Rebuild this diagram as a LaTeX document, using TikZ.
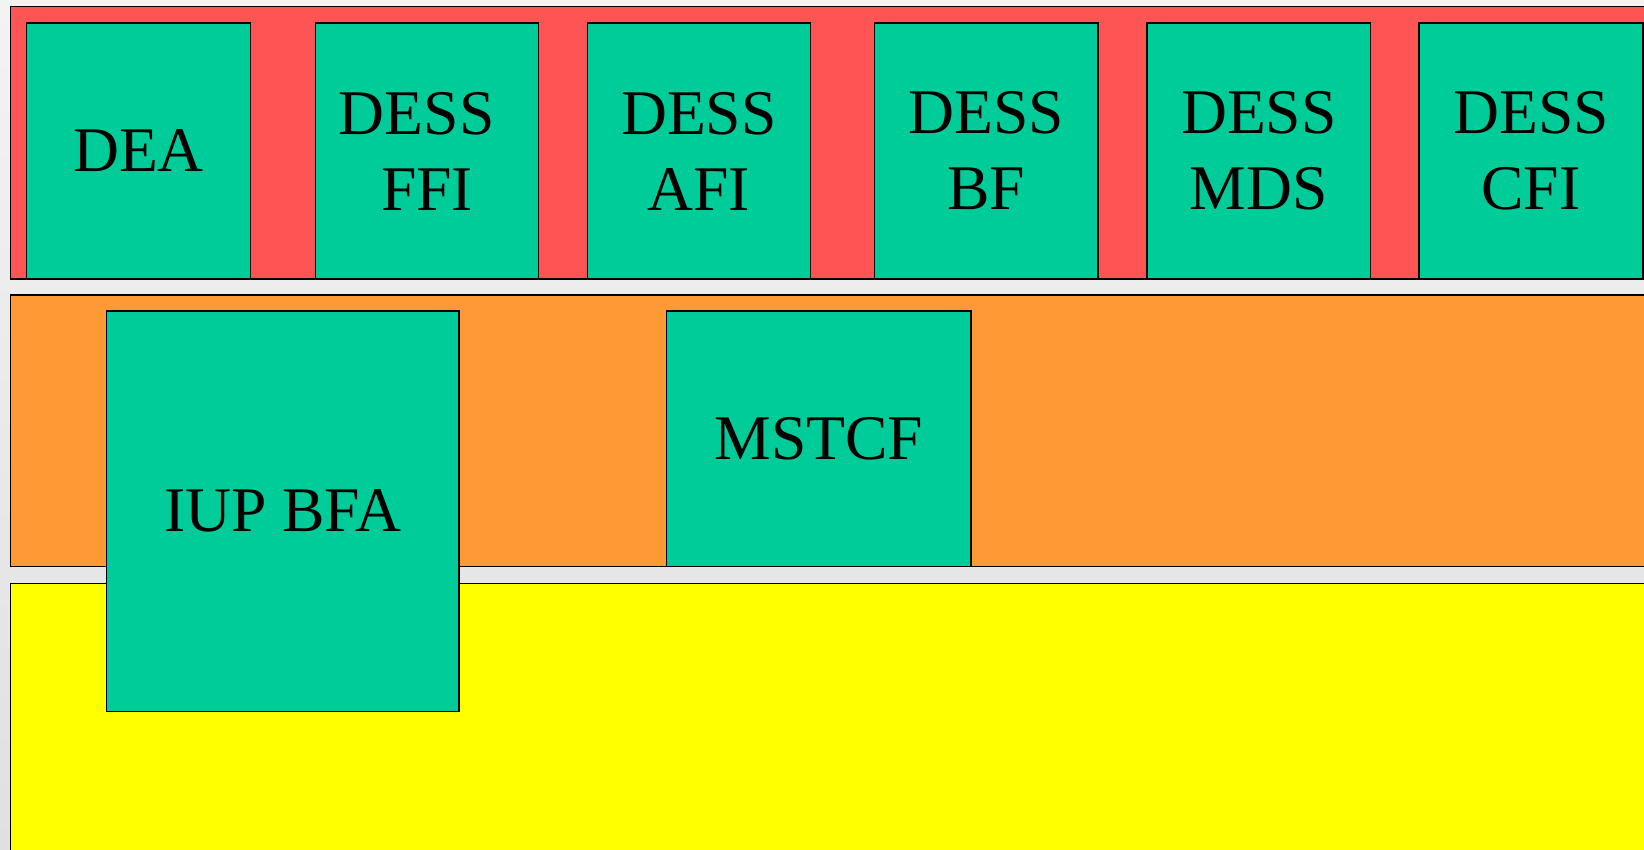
\documentclass[tikz,border=0pt]{standalone}
\usepackage{fontspec}
\setmainfont{Liberation Serif}
\definecolor{bandred}{RGB}{255,84,84}
\definecolor{bandorange}{RGB}{255,153,51}
\definecolor{bandyellow}{RGB}{255,255,0}
\definecolor{boxgreen}{RGB}{0,204,153}
\definecolor{bgtop}{RGB}{243,243,243}
\definecolor{bgbot}{RGB}{224,224,224}
\tikzset{
  band/.style={draw=black, line width=1.2pt},
  unit/.style={draw=black, fill=boxgreen, line width=1.4pt, inner sep=0pt,
    align=center, font=\fontsize{63.6}{76}\selectfont},
}
\begin{document}
\begin{tikzpicture}[x=1pt,y=-1pt]
\useasboundingbox (0,0) rectangle (1644,850);
\shade[top color=bgtop, bottom color=bgbot] (0,0) rectangle (1644,850);
\clip (0,0) rectangle (1644,850);
% bands
\path[band, fill=bandred] (10.3,6.7) rectangle (1700,279);
\path[band, fill=bandorange] (10.3,295) rectangle (1700,566.7);
\path[band, fill=bandyellow] (10.3,583.3) rectangle (1700,900);
% top row
\node[unit, minimum width=224.4pt, minimum height=256pt] (dea) at (138.5,151) {DEA};
\node[unit, minimum width=223.4pt, minimum height=256pt] (ffi) at (427,151) {DESS\hspace*{20.6pt}\\FFI};
\node[unit, minimum width=223.4pt, minimum height=256pt] (afi) at (698.9,151) {DESS\\AFI};
\node[unit, minimum width=223.4pt, minimum height=256pt] (bf) at (986.1,151) {DESS\\BF};
\node[unit, minimum width=223.6pt, minimum height=256pt] (mds) at (1258.9,151) {DESS\\MDS};
\node[unit, minimum width=224pt, minimum height=256pt] (cfi) at (1531,151) {DESS\\CFI};
% middle row
\node[unit, minimum width=304.3pt, minimum height=255.7pt] (mstcf) at (818.8,438.8) {MSTCF};
\node[unit, minimum width=352.7pt, minimum height=400.7pt] (iup) at (282.7,511.3) {IUP BFA};
\end{tikzpicture}
\end{document}
